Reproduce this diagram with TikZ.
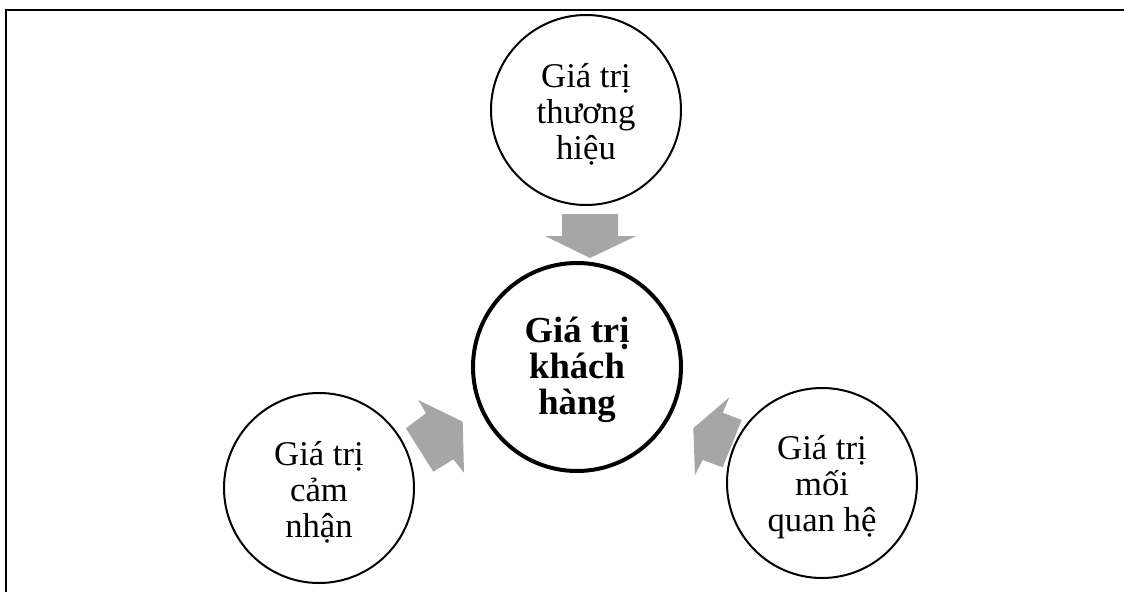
\documentclass[tikz,border=0pt]{standalone}
\usepackage{fontspec}
\setmainfont{Liberation Serif}
\begin{document}
\begin{tikzpicture}[x=0.75pt,y=-0.75pt,
  valuecircle/.style={circle,draw=black,line width=1.5pt,inner sep=0pt,
    minimum size=142.5pt},
  corecircle/.style={circle,draw=black,line width=3pt,inner sep=0pt,
    minimum size=156pt},
  valuetext/.style={inner sep=0pt,align=center,
    font=\fontsize{26pt}{27pt}\selectfont},
  coretext/.style={inner sep=0pt,align=center,
    font=\fontsize{27.5pt}{27pt}\selectfont\bfseries},
  fatarrow/.style={fill=black!35,draw=none},
  frameline/.style={draw=black,line width=1.5pt}]
\useasboundingbox (0,0) rectangle (1124,592);
\fill[white] (0,0) rectangle (1124,592);

% open frame: left and top edges
\path[frameline] (6,600) -- (6,10) -- (1130,10);

% value circles around the central one
\node[corecircle]  (core)  at (577,367) {};
\node[valuecircle] (brand) at (586,110) {};
\node[valuecircle] (perc)  at (319,488) {};
\node[valuecircle] (rel)   at (822,483) {};

% circle labels, set slightly below each centre
\node[coretext]  (coretxt)  at ([yshift=-2pt]core.center)  {Giá trị\\khách\\hàng};
\node[valuetext] (brandtxt) at ([yshift=-3pt]brand.center) {Giá trị\\thương\\hiệu};
\node[valuetext] (perctxt)  at ([yshift=-3pt]perc.center)  {Giá trị\\cảm\\nhận};
\node[valuetext] (reltxt)   at ([yshift=-3pt]rel.center)   {Giá trị\\mối\\quan hệ};

% block arrows converging on the core
\fill[fatarrow] (562,214) -- (618,214) -- (618,236) -- (636,236)
  -- (590,258) -- (545,236) -- (562,236) -- cycle;
\fill[fatarrow] (418.3,400) -- (462.7,421.7) -- (464,472.7) -- (453.3,459.3)
  -- (433.3,471.7) -- (406,428.3) -- (426,413.3) -- cycle;
\fill[fatarrow] (693.3,428.3) -- (729.3,397.3) -- (722.7,412.7) -- (741.7,420)
  -- (722.7,467.3) -- (702.7,460) -- (695,475) -- cycle;
\end{tikzpicture}
\end{document}
